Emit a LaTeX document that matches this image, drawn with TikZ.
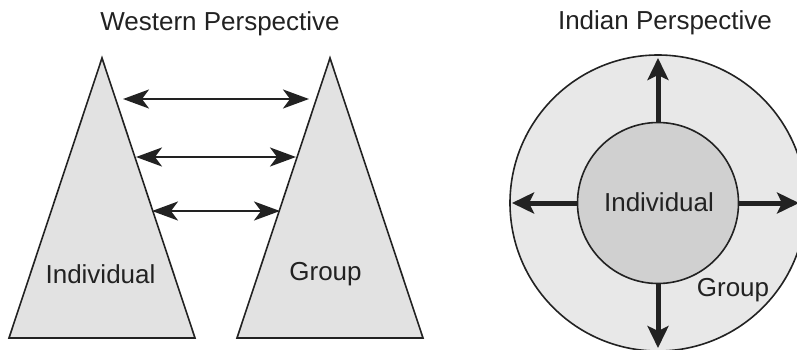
\documentclass[tikz,border=0pt]{standalone}
\usepackage{fontspec}
\setmainfont{Liberation Sans}
\usetikzlibrary{arrows.meta}
\definecolor{ink}{HTML}{222222}
\definecolor{trifill}{HTML}{E2E2E2}
\definecolor{outerfill}{HTML}{E8E8E8}
\definecolor{innerfill}{HTML}{D0D0D0}
\tikzset{
  lbl/.style={font=\fontsize{26}{30}\selectfont, text=ink, inner sep=0pt},
  tri/.style={draw=ink, fill=trifill, line width=1.6pt, line join=miter},
  thinhead/.tip={Stealth[length=26pt 0 0,width=19pt 0 0,inset=7pt 0]},
  thickhead/.tip={Stealth[length=22pt 0 0,width=21pt 0 0,inset=5pt 0]},
  twoway/.style={draw=ink, line width=2.3pt, thinhead-thinhead},
  outward/.style={draw=ink, line width=5pt, -thickhead},
}
\begin{document}
\begin{tikzpicture}[x=1pt,y=-1pt]
\useasboundingbox (0,0) rectangle (797,349);
\begin{scope}
\clip (0,0) rectangle (797,349);
% titles
\node[lbl] (tw) at (220,24) {Western Perspective};
\node[lbl] (ti) at (665,23) {Indian Perspective};
% triangles
\coordinate (la) at (102,58);
\coordinate (lbl1) at (9,338);
\coordinate (lbr) at (195,338);
\coordinate (ra) at (330,58);
\coordinate (rbl) at (237,338);
\coordinate (rbr) at (423,338);
\draw[tri] (la) -- (lbr) -- (lbl1) -- cycle;
\draw[tri] (ra) -- (rbr) -- (rbl) -- cycle;
\node[lbl] (ind1) at (100.5,274) {Individual};
\node[lbl] (grp1) at (325.5,274) {Group};
% two-way arrows
\coordinate (a1l) at (123,99);  \coordinate (a1r) at (309,99);
\coordinate (a2l) at (136,157); \coordinate (a2r) at (296,157);
\coordinate (a3l) at (152,211); \coordinate (a3r) at (280,211);
\draw[twoway] (a1l) -- (a1r);
\draw[twoway] (a2l) -- (a2r);
\draw[twoway] (a3l) -- (a3r);
% circles
\node[circle, draw=ink, fill=outerfill, line width=1.6pt, minimum size=296pt, inner sep=0pt] (outer) at (658,203) {};
\node[circle, draw=ink, fill=innerfill, line width=1.6pt, minimum size=161pt, inner sep=0pt] (inner) at (658,203) {};
\node[lbl] (ind2) at (659,202) {Individual};
\node[lbl] (grp2) at (733,290) {Group};
% outward arrows
\coordinate (tu) at (658,58);
\coordinate (td) at (658,348);
\coordinate (tl) at (512,203);
\coordinate (tr) at (799,203);
\draw[outward] (inner.north) -- (tu);
\draw[outward] (inner.south) -- (td);
\draw[outward] (inner.west) -- (tl);
\draw[outward] (inner.east) -- (tr);
\end{scope}
\end{tikzpicture}
\end{document}
